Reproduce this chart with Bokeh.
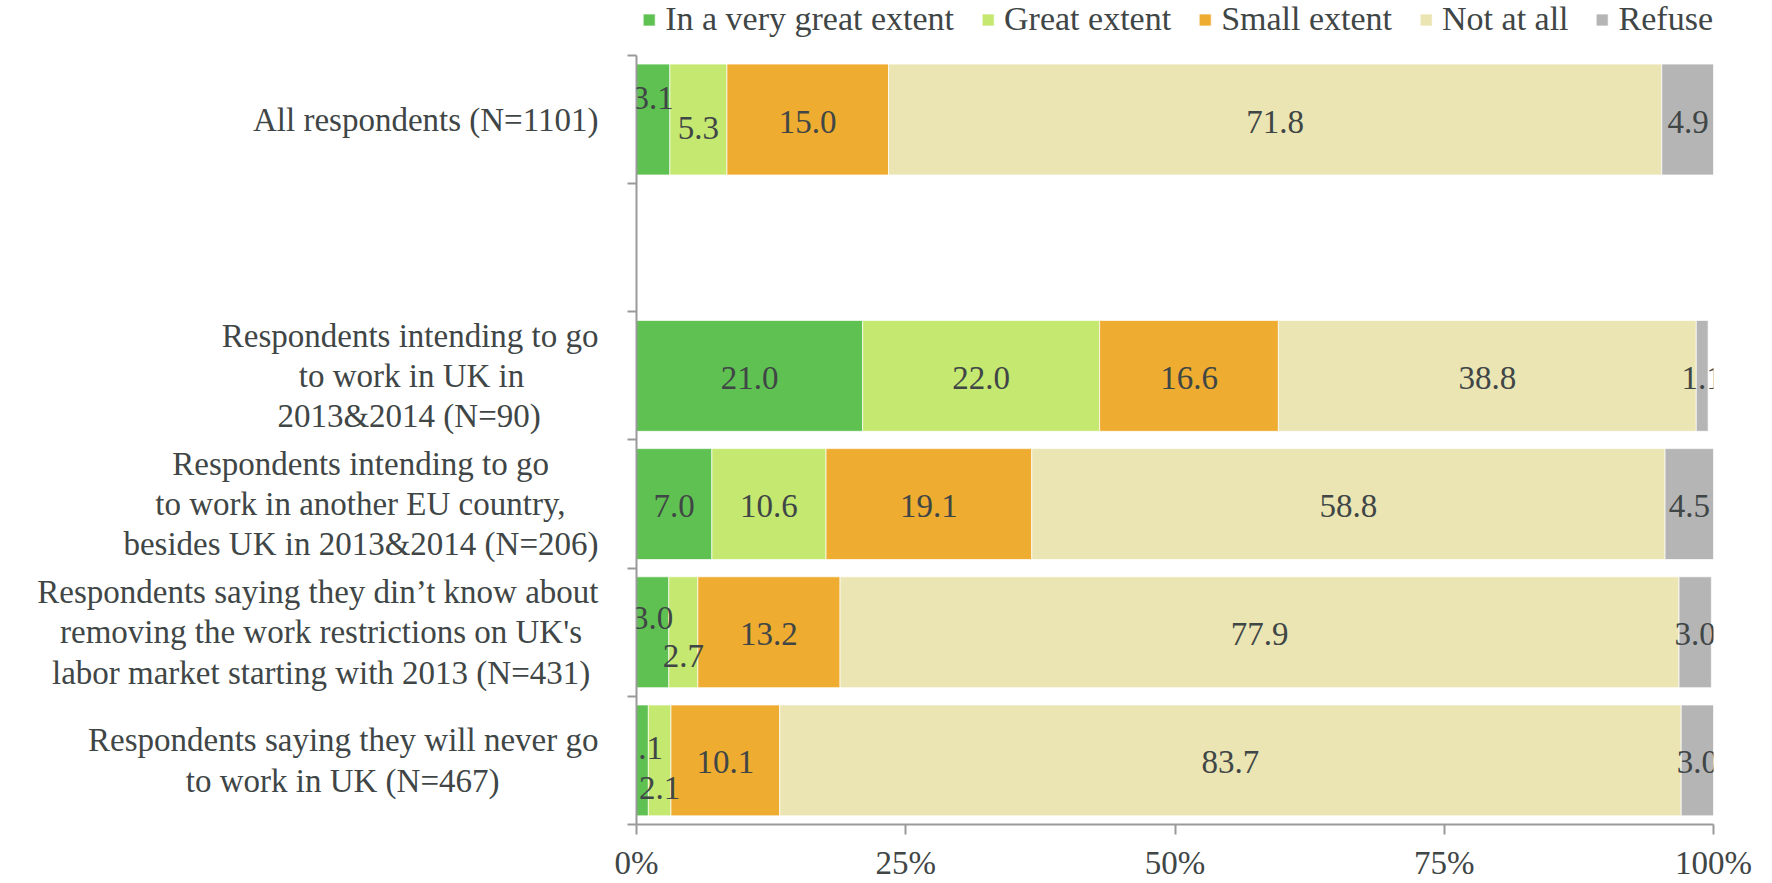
from bokeh.plotting import figure
from bokeh.models import (ColumnDataSource, Range1d, FixedTicker, LabelSet, Legend, LegendItem)
from bokeh.embed import file_html
from bokeh.resources import INLINE

# ---------------- data ----------------
categories = [
    "All respondents (N=1101)",
    "Respondents intending to go\nto work in UK in\n2013&2014 (N=90)",
    "Respondents intending to go\nto work in another EU country,\nbesides UK in 2013&2014 (N=206)",
    "Respondents saying they din\u2019t know about\nremoving the work restrictions on UK's\nlabor market starting with 2013 (N=431)",
    "Respondents saying they will never go\nto work in UK (N=467)",
]
series_names = ["In a very great extent", "Great extent", "Small extent", "Not at all", "Refuse"]
very_great = [3.1, 21.0, 7.0, 3.0, 1.1]
great = [5.3, 22.0, 10.6, 2.7, 2.1]
small = [15.0, 16.6, 19.1, 13.2, 10.1]
not_at_all = [71.8, 38.8, 58.8, 77.9, 83.7]
refuse = [4.9, 1.1, 4.5, 3.0, 3.0]
x_ticks = [0, 25, 50, 75, 100]
x_tick_labels = ["0%", "25%", "50%", "75%", "100%"]

# ---------------- style ----------------
colors = ["#5fc151", "#c5e870", "#eeac30", "#ebe5b3", "#b5b5b5"]
TEXT = "#404646"
AXIS = "#9a9a9a"
FONT = "Liberation Serif"
FS = "33px"
# vertical nudges (px, down positive) for crowded small labels: (row, series) -> dy
label_dy = {(0, 0): -22, (0, 1): 8, (3, 0): -14, (3, 1): 24, (4, 0): -12, (4, 1): 28}

# approximate advance widths (1/1000 em) of the serif face, used to centre wrapped lines
_W = {" ": 250, "(": 333, ")": 333, ",": 250, ".": 250, "&": 778, "=": 564, "'": 180,
      "\u2019": 333}
_W.update({c: 500 for c in "0123456789"})
_W.update(dict(zip("ABCDEFGHIJKLMNOPQRSTUVWXYZ",
                   [722, 667, 667, 722, 611, 556, 722, 722, 333, 389, 722, 611, 889, 722,
                    722, 556, 722, 667, 556, 611, 722, 722, 944, 722, 722, 611])))
_W.update(dict(zip("abcdefghijklmnopqrstuvwxyz",
                   [444, 500, 444, 500, 444, 333, 500, 500, 278, 278, 500, 278, 778, 500,
                    500, 500, 500, 333, 389, 278, 500, 500, 722, 500, 500, 444])))


def centred(text):
    lines = text.split("\n")
    widths = [sum(_W.get(c, 500) for c in ln) for ln in lines]
    wmax = max(widths)
    return "\n".join(ln + "\u00a0" * int(round((wmax - w) / 2 / 250))
                     for ln, w in zip(lines, widths))


keys = ["vg", "g", "s", "n", "r"]
values = [very_great, great, small, not_at_all, refuse]

GAP = " "
rows = [categories[0], GAP] + categories[1:]   # top to bottom, with one empty slot
n_slots = len(rows)
ypos = [n_slots - rows.index(c) - 0.5 for c in categories]   # slot centres on a 0..n_slots scale

# layout: frame spans from the canvas top; the band above the bars holds the legend
H, BOTTOM, TOP_BAND = 883, 58, 55
slot_px = (H - BOTTOM - TOP_BAND) / n_slots
y_top = n_slots + TOP_BAND / slot_px

source = ColumnDataSource(dict(category=categories, y=ypos, **{k: v for k, v in zip(keys, values)}))

p = figure(width=1772, height=H, output_backend="svg", toolbar_location=None, title=None,
           x_range=Range1d(0, 100), y_range=Range1d(0, y_top),
           min_border_left=636, min_border_right=59,
           min_border_top=0, min_border_bottom=BOTTOM)
p.outline_line_color = None
p.xgrid.visible = False
p.ygrid.visible = False

bars = p.hbar_stack(keys, y="y", height=0.865, source=source, fill_color=colors,
                    line_color="white", line_width=1, line_alpha=0.7)

# y axis: category labels at slot centres, tick marks on slot boundaries
yax = p.yaxis[0]
yax.bounds = (0, n_slots)
yax.ticker = FixedTicker(ticks=ypos, minor_ticks=list(range(n_slots + 1)))
yax.major_label_overrides = {y: centred(c) for y, c in zip(ypos, categories)}
yax.major_label_text_font = FONT
yax.major_label_text_font_size = FS
yax.major_label_text_color = TEXT
yax.major_label_text_line_height = 1.12
yax.major_label_standoff = 29
yax.axis_line_color = AXIS
yax.axis_line_width = 2
yax.major_tick_line_color = None
yax.major_tick_out = 0
yax.major_tick_in = 0
yax.minor_tick_line_color = AXIS
yax.minor_tick_line_width = 2
yax.minor_tick_out = 9
yax.minor_tick_in = 0

xax = p.xaxis[0]
xax.ticker = FixedTicker(ticks=x_ticks)
xax.major_label_overrides = {t: l for t, l in zip(x_ticks, x_tick_labels)}
xax.axis_line_color = AXIS
xax.axis_line_width = 2
xax.major_tick_line_color = AXIS
xax.major_tick_line_width = 2
xax.major_tick_out = 10
xax.major_tick_in = 0
xax.minor_tick_line_color = None
xax.major_label_text_font = FONT
xax.major_label_text_font_size = FS
xax.major_label_text_color = TEXT
xax.major_label_standoff = 10

# data labels
lx, ly, lt, loff = [], [], [], []
for r, cat in enumerate(categories):
    left = 0.0
    for s, vals in enumerate(values):
        v = vals[r]
        lx.append(left + v / 2)
        ly.append(ypos[r])
        lt.append(f"{v:.1f}")
        loff.append(-label_dy.get((r, s), 2))
        left += v
lsrc = ColumnDataSource(dict(x=lx, y=ly, text=lt, off=loff))
p.add_layout(LabelSet(x="x", y="y", text="text", y_offset="off", source=lsrc,
                      text_align="center", text_baseline="middle", text_font=FONT,
                      text_font_size=FS, text_color=TEXT))

leg = Legend(items=[LegendItem(label=n, renderers=[r]) for n, r in zip(series_names, bars)],
             orientation="horizontal", location="top_right", padding=0, margin=0, spacing=26,
             glyph_width=15, glyph_height=15, label_standoff=9, label_text_font=FONT,
             label_text_font_size="34px", label_text_color=TEXT,
             background_fill_alpha=0, border_line_alpha=0)
p.add_layout(leg)

open("out.html", "w").write(file_html(p, INLINE))
